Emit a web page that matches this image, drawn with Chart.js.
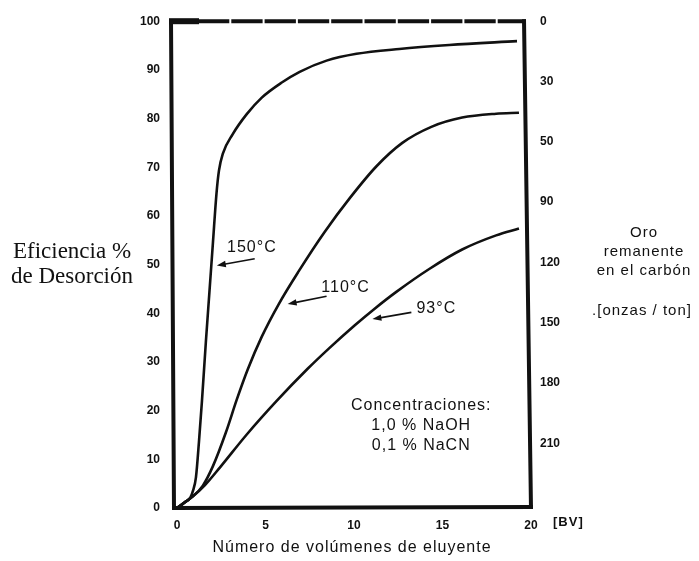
<!DOCTYPE html>
<html><head><meta charset="utf-8">
<script src="https://cdn.jsdelivr.net/npm/chart.js@4"></script>
<style>html,body{margin:0;padding:0;background:#fff}#wrap{width:699px;height:561px;position:relative}</style>
</head><body><div id="wrap"><canvas id="c" width="699" height="561"></canvas></div>
<script>
// ---- data ----
const bv150 = [0, 0.45, 0.75, 0.90, 1.07, 1.24, 1.41, 1.63, 1.83, 2.03, 2.23, 2.37, 2.59, 3.15, 3.94, 4.79, 5.92, 6.93, 8.45, 10.14, 12.56, 15.38, 19.21];
const ef150 = [0, 1.2, 2.1, 3.5, 6.3, 13.6, 22.0, 34.1, 44.3, 54.5, 64.6, 69.3, 72.8, 76.8, 80.9, 84.3, 87.4, 89.6, 91.9, 93.3, 94.3, 95.1, 95.9];
const bv110 = [0, 0.45, 0.9, 1.46, 2.03, 2.76, 3.38, 4.0, 4.79, 5.75, 6.87, 8.34, 9.75, 11.27, 12.73, 14.37, 16.11, 18.03, 19.32];
const ef110 = [0, 1.2, 2.4, 4.6, 8.6, 15.5, 22.3, 28.5, 35.2, 41.9, 48.6, 56.7, 63.6, 70.2, 75.0, 78.3, 80.2, 81.0, 81.2];
const bv93 = [0, 0.45, 0.9, 1.58, 2.42, 3.94, 5.63, 7.38, 8.62, 10.03, 11.15, 12.39, 14.25, 16.11, 18.03, 19.32];
const ef93 = [0, 1.2, 2.4, 4.7, 8.3, 15.1, 22.0, 28.6, 32.9, 37.5, 40.9, 44.4, 49.1, 53.1, 56.0, 57.4];
const seriesNames = ['150°C', '110°C', '93°C'];
const xTickValues = [0, 5, 10, 15, 20];
const leftTickValues = [0, 10, 20, 30, 40, 50, 60, 70, 80, 90, 100];
const rightTickLabels = ['0', '30', '50', '90', '120', '150', '180', '210'];
const noteLines = ['Concentraciones:', '1,0 % NaOH', '0,1 % NaCN'];
const leftTitle = ['Eficiencia %', 'de Desorción'];
const rightTitle = ['Oro', 'remanente', 'en el carbón'];
const rightUnit = '.[onzas / ton]';
const xTitle = 'Número de volúmenes de eluyente';
const xUnit = '[BV]';

// annotation placement in data coordinates (label centre, arrow start, arrow tip)
const labelPlacement = [
  {text: seriesNames[0], lx: 4.23, ly: 53.5, ax: 4.39, ay: 51.2, tx: 2.25, ty: 49.8},
  {text: seriesNames[1], lx: 9.52, ly: 45.3, ax: 8.45, ay: 43.5, tx: 6.25, ty: 41.9},
  {text: seriesNames[2], lx: 14.65, ly: 40.9, ax: 13.24, ay: 40.2, tx: 11.04, ty: 38.8}
];
const notePlacement = {x: 13.8, y: [21.0, 16.9, 12.8]};

const pts = (xs, ys) => xs.map((x, i) => ({x, y: ys[i]}));
const INK = '#111';

const overlay = {
  id: 'overlay',
  afterDraw(chart) {
    const {ctx, chartArea: a, scales} = chart;
    const sx = scales.x, sy = scales.y;
    ctx.save();
    // frame (the scanned original is slightly skewed)
    ctx.strokeStyle = INK; ctx.lineWidth = 4; ctx.lineCap = 'butt';
    ctx.beginPath();
    ctx.moveTo(a.left - 3, a.top - 2); ctx.lineTo(a.left, a.bottom + 2);
    ctx.moveTo(a.left - 2, a.bottom); ctx.lineTo(a.right + 2, a.bottom - 1);
    ctx.moveTo(a.right, a.bottom + 1); ctx.lineTo(a.right - 7, a.top - 2);
    ctx.stroke();
    ctx.setLineDash([31.3, 2]);
    ctx.lineDashOffset = 4.3;
    ctx.beginPath(); ctx.moveTo(a.left - 5, a.top); ctx.lineTo(a.right - 5, a.top); ctx.stroke();
    ctx.setLineDash([]);
    ctx.fillStyle = INK;
    ctx.fillRect(a.left - 5, a.top - 3, 30, 6);

    // series labels + arrows
    ctx.font = '16px "Liberation Sans", Arial, sans-serif';
    ctx.letterSpacing = '1px';
    ctx.textAlign = 'center'; ctx.textBaseline = 'middle';
    labelPlacement.forEach(p => {
      ctx.fillText(p.text, sx.getPixelForValue(p.lx), sy.getPixelForValue(p.ly));
      const x0 = sx.getPixelForValue(p.ax), y0 = sy.getPixelForValue(p.ay);
      const x1 = sx.getPixelForValue(p.tx), y1 = sy.getPixelForValue(p.ty);
      const ang = Math.atan2(y1 - y0, x1 - x0);
      ctx.lineWidth = 1.7;
      ctx.beginPath(); ctx.moveTo(x0, y0);
      ctx.lineTo(x1 - 6 * Math.cos(ang), y1 - 6 * Math.sin(ang)); ctx.stroke();
      ctx.beginPath();
      ctx.moveTo(x1, y1);
      ctx.lineTo(x1 - 9 * Math.cos(ang) + 3.2 * Math.sin(ang), y1 - 9 * Math.sin(ang) - 3.2 * Math.cos(ang));
      ctx.lineTo(x1 - 9 * Math.cos(ang) - 3.2 * Math.sin(ang), y1 - 9 * Math.sin(ang) + 3.2 * Math.cos(ang));
      ctx.closePath(); ctx.fill();
    });

    // concentration note
    noteLines.forEach((t, i) => {
      ctx.fillText(t, sx.getPixelForValue(notePlacement.x), sy.getPixelForValue(notePlacement.y[i]));
    });

    // x title and unit
    ctx.fillText(xTitle, 352, 548);
    ctx.font = 'bold 13px "Liberation Sans", Arial, sans-serif';
    ctx.letterSpacing = '1px';
    ctx.textAlign = 'left';
    ctx.fillText(xUnit, 553, 522);

    // right title
    ctx.font = '15px "Liberation Sans", Arial, sans-serif';
    ctx.letterSpacing = '1px';
    ctx.textAlign = 'center';
    rightTitle.forEach((t, i) => ctx.fillText(t, 644, 233 + i * 19));
    ctx.fillText(rightUnit, 642, 311);

    // left title
    ctx.letterSpacing = '0px';
    ctx.font = '23px "Liberation Serif", "Times New Roman", serif';
    ctx.textAlign = 'center';
    ctx.textBaseline = 'alphabetic';
    ctx.fillText(leftTitle[0], 72, 258);
    ctx.fillText(leftTitle[1], 72, 283);
    ctx.restore();
  }
};

const lineStyle = {borderColor: INK, borderWidth: 2.6, pointRadius: 0, showLine: true, fill: false, cubicInterpolationMode: 'monotone'};
const tickFont = {family: '"Liberation Sans", Arial, sans-serif', size: 12, weight: 'bold'};

new Chart(document.getElementById('c'), {
  type: 'scatter',
  data: {datasets: [
    {label: seriesNames[0], data: pts(bv150, ef150), ...lineStyle},
    {label: seriesNames[1], data: pts(bv110, ef110), ...lineStyle},
    {label: seriesNames[2], data: pts(bv93, ef93), ...lineStyle}
  ]},
  options: {
    responsive: false, animation: false, devicePixelRatio: 1,
    layout: {padding: {top: 16, left: 0, right: 0, bottom: 0}},
    plugins: {legend: {display: false}, tooltip: {enabled: false}},
    scales: {
      x: {
        type: 'linear', min: -0.17, max: 20,
        afterBuildTicks: s => { s.ticks = xTickValues.map(v => ({value: v})); },
        afterFit: s => { s.height = 53; },
        grid: {display: false, drawTicks: false}, border: {display: false},
        ticks: {font: tickFont, color: INK, padding: 10, maxRotation: 0, callback: v => String(v)}
      },
      y: {
        type: 'linear', position: 'left', min: 0, max: 100,
        afterBuildTicks: s => { s.ticks = leftTickValues.map(v => ({value: v})); },
        afterFit: s => { s.width = 174; },
        grid: {display: false, drawTicks: false}, border: {display: false},
        ticks: {font: tickFont, color: INK, padding: 14, callback: v => String(v)}
      },
      y2: {
        type: 'linear', position: 'right', reverse: true, min: 0, max: 8.07,
        afterBuildTicks: s => { s.ticks = rightTickLabels.map((t, i) => ({value: i})); },
        afterFit: s => { s.width = 168; },
        grid: {display: false, drawTicks: false}, border: {display: false},
        ticks: {font: tickFont, color: INK, padding: 9, callback: (v, i) => rightTickLabels[i] ?? ''}
      }
    }
  },
  plugins: [overlay]
});
</script>
</body></html>
